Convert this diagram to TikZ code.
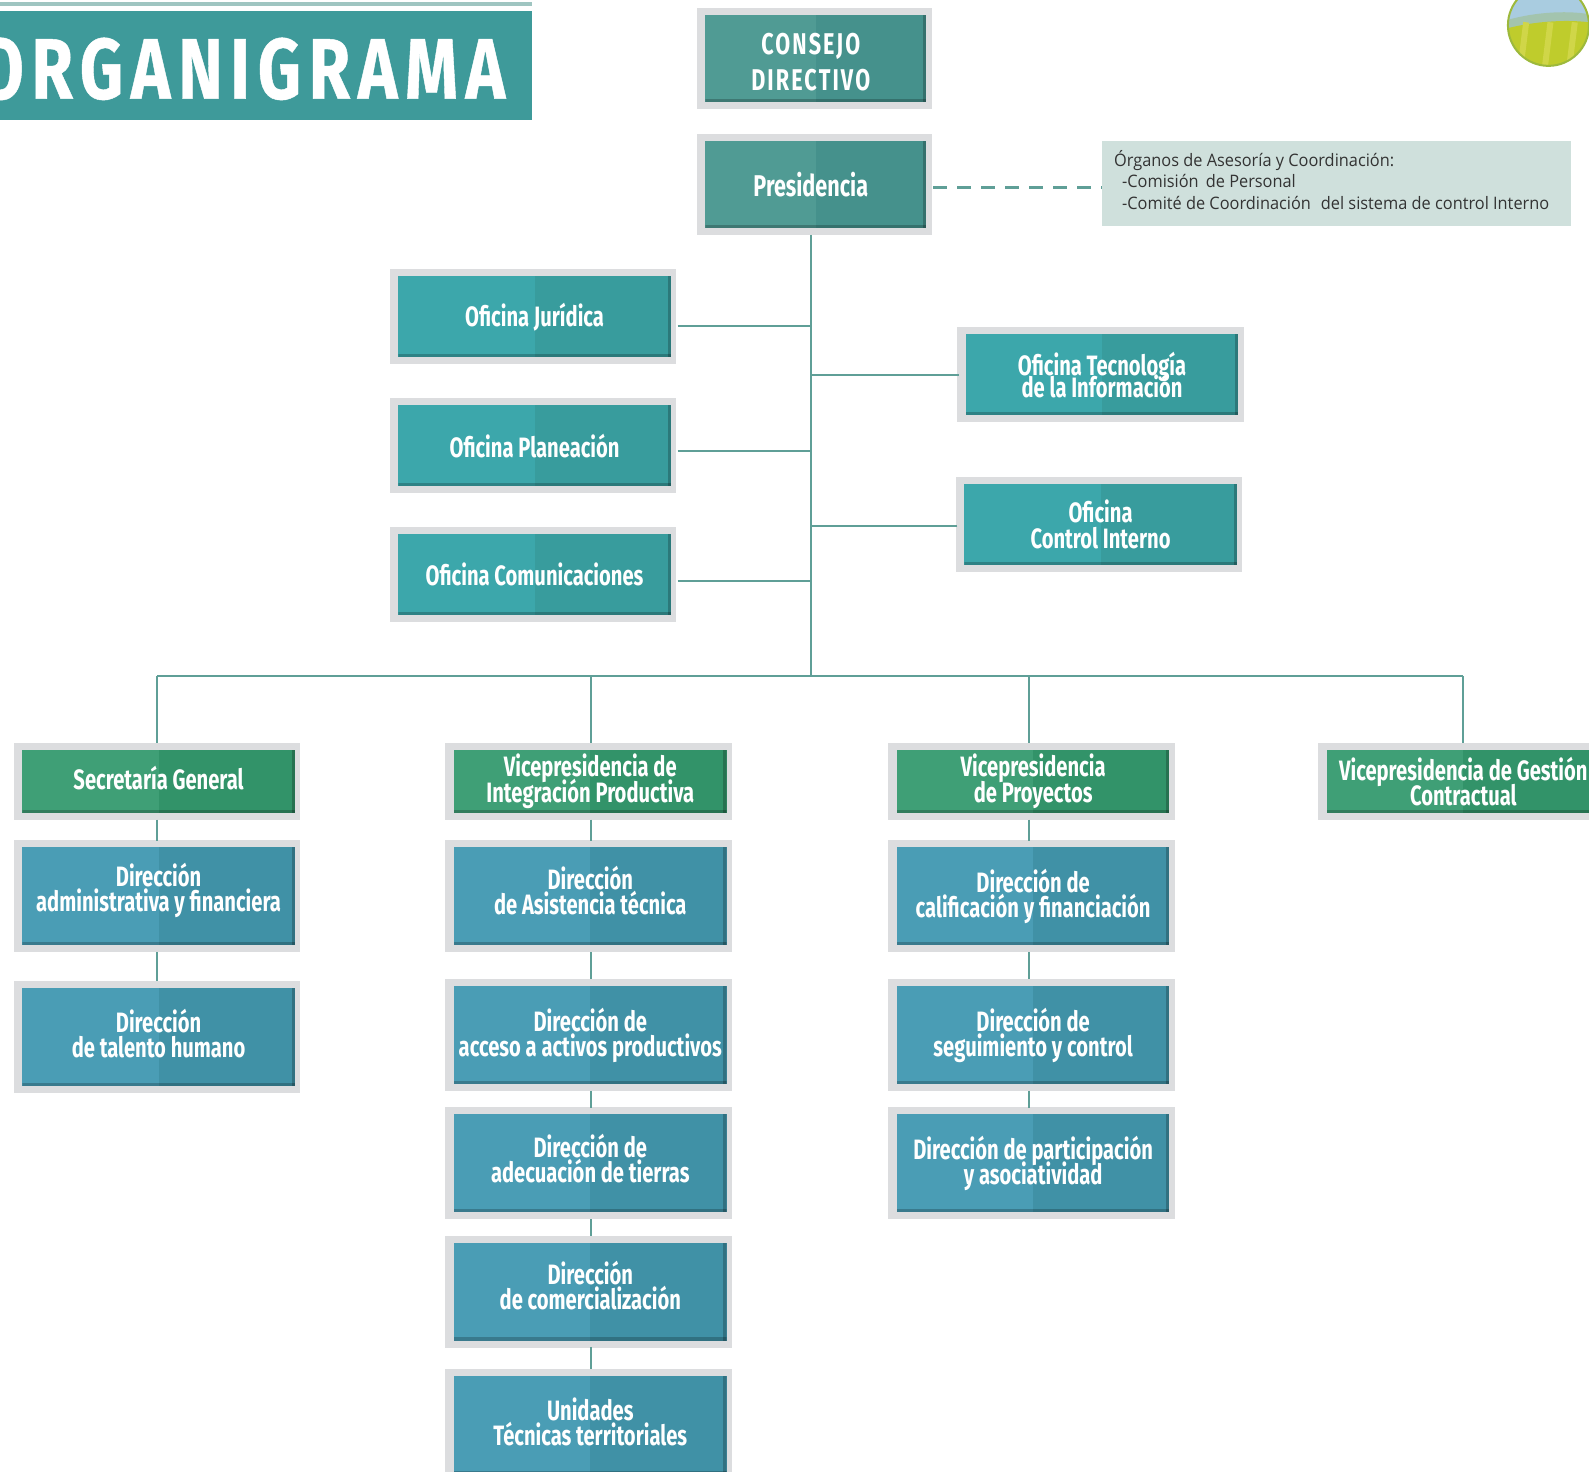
\documentclass[tikz,border=0pt]{standalone}
\usepackage{fontspec}
\newfontfamily\boxfont[FakeStretch=0.72]{Fira Sans}
\newfontfamily\topfont[FakeStretch=0.72,LetterSpace=7]{Fira Sans}
\newfontfamily\titlefont[FakeStretch=0.78,LetterSpace=9,FakeBold=.5]{Fira Sans}
\newfontfamily\notefont[FakeStretch=0.95]{Open Sans}
\newcommand{\tightlines}{\lineskiplimit=-50pt\relax}
\newcommand{\up}[1]{\rule[-#1pt]{0pt}{0pt}}
\definecolor{halo}{HTML}{DCDDDF}
\definecolor{line}{HTML}{5F9F97}
\definecolor{titlefill}{HTML}{3E9A9A}
\definecolor{topa}{HTML}{509B94}
\definecolor{topb}{HTML}{45918C}
\definecolor{ofia}{HTML}{3CA7AB}
\definecolor{ofib}{HTML}{389C9D}
\definecolor{vica}{HTML}{3F9F76}
\definecolor{vicb}{HTML}{329369}
\definecolor{dira}{HTML}{4A9DB5}
\definecolor{dirb}{HTML}{4091A6}
\definecolor{notefill}{HTML}{CFE0DC}
\definecolor{logosky}{HTML}{A9CCE0}
\definecolor{logotree}{HTML}{A3C4AE}
\definecolor{logofield}{HTML}{BFCC2C}
\definecolor{logostripe}{HTML}{D0D648}
\definecolor{logoedge}{HTML}{9DB93C}
\tikzset{
  orgbox/.style n args={2}{rectangle, fill=#1, text=white,
    align=center, inner sep=0pt, outer sep=3.4pt, minimum width=136.3pt,
    font=\boxfont\bfseries\fontsize{14}{12.7}\selectfont\tightlines,
    preaction={draw=halo, line width=7pt, transform canvas={xshift=-.8pt}},
    path picture={
      \fill[#2] (path picture bounding box.south) rectangle (path picture bounding box.north east);
      \fill[black,opacity=.22] ([yshift=1.6pt]path picture bounding box.south west) rectangle (path picture bounding box.south east);
      \fill[black,opacity=.22] ([xshift=-1.6pt]path picture bounding box.south east) rectangle (path picture bounding box.north east);
    }},
  topbox/.style={orgbox={topa}{topb}, minimum width=110.5pt, minimum height=43.6pt, font=\boxfont\bfseries\fontsize{15}{18}\selectfont\tightlines},
  ofibox/.style={orgbox={ofia}{ofib}, minimum height=40.5pt},
  vicbox/.style={orgbox={vica}{vicb}, minimum height=31.4pt},
  dirbox/.style={orgbox={dira}{dirb}, minimum height=49pt},
  link/.style={draw=line, line width=1pt}
}
\begin{document}
\begin{tikzpicture}[x=.5067pt,y=-.5067pt]
  \useasboundingbox (0,0) rectangle (1568,1452);
  % title
  \fill[titlefill] (0,11) rectangle (525,118);
  \fill[line!60] (0,2) rectangle (525,6);
  \node[anchor=east, inner sep=0pt, text=white, font=\titlefont\bfseries\fontsize{43}{43}\selectfont] (title) at (499,68) {ORGANIGRAMA};
  % logo
  \begin{scope}
    \clip (1528,25) circle (40);
    \fill[logosky] (1480,-20) rectangle (1568,70);
    \fill[logotree] (1480,22) .. controls (1510,12) and (1545,10) .. (1568,14) -- (1568,30) -- (1480,30) -- cycle;
    \fill[logofield] (1480,30) .. controls (1510,21) and (1545,19) .. (1568,22) -- (1568,70) -- (1480,70) -- cycle;
    \foreach \x in {1500,1524,1548} \draw[logostripe, line width=3pt] (\x+6,22) -- (\x,70);
  \end{scope}
  \draw[logoedge, line width=1pt] (1528,25) circle (40);
  % boxes
  \node[topbox] (consejo) at (805,58) {\rule{0pt}{13.5pt}\hspace*{-5pt}{\topfont CONSEJO}\\\hspace*{-5pt}{\topfont DIRECTIVO}};
  \node[topbox] (pres) at (805,182) {\hspace*{-5pt}Presidencia};
  \foreach \id/\cx/\cy/\txt in {ojur/527.5/312.5/{Oficina Jurídica}, opla/527.5/440/{Oficina Planeación},
      ocom/527.5/567/{Oficina Comunicaciones}, otec/1087.5/370/{Oficina Tecnología\\[-1.6pt]de la Información},
      ocon/1086/517.5/{Oficina\\Control Interno}}
    \node[ofibox] (\id) at (\cx,\cy) {\txt};
  \foreach \id/\cx/\txt in {vsec/156.5/{Secretaría General\up{4}}, vint/582.5/{Vicepresidencia de\\Integración Productiva},
      vpro/1019.5/{Vicepresidencia\\de Proyectos}}
    \node[vicbox] (\id) at (\cx,771) {\txt};
  \node[vicbox] (vges) at (1444,771) {Vicepresidencia de Gestión\\Contractual};
  \foreach \id/\cx/\cy/\txt in {dadm/156.5/884.5/{Dirección\\administrativa y financiera\up{8.8}}, dtal/156.5/1023.5/{Dirección\\de talento humano\up{4}},
      dasi/582.5/884.5/{Dirección\\de Asistencia técnica\up{6}}, dacc/582.5/1021.5/{Dirección de\\acceso a activos productivos},
      dade/582.5/1148/{Dirección de\\adecuación de tierras\up{5}}, dcom/582.5/1274.5/{Dirección\\de comercialización\up{6}},
      duni/582.5/1406/{Unidades\\Técnicas territoriales\up{3}},
      dcal/1019.5/884.5/{Dirección de\\calificación y financiación}, dseg/1019.5/1021.5/{Dirección de\\seguimiento y control},
      dpar/1019.5/1148/{Dirección de participación\\y asociatividad}}
    \node[dirbox] (\id) at (\cx,\cy) {\txt};
  \node[fill=notefill, minimum width=234.6pt, minimum height=42.6pt, inner sep=0pt] (note) at (1318.5,181) {};
  \node[anchor=west, inner sep=0pt, align=left, font=\notefont\fontsize{8.6}{10.9}\selectfont, text=black!80] (notetxt) at (1099,177.5)
    {Órganos de Asesoría y Coordinación:\\\hspace*{4pt}-Comisión\, de Personal\\\hspace*{4pt}-Comité de Coordinación\,\, del sistema de control Interno};
  % connectors
  \coordinate (trunk) at (800,667);
  \draw[link] (pres.south -| trunk) -- (trunk);
  \draw[link, line width=1.3pt, dash pattern=on 7pt off 5pt] (pres.east |- 0,185) -- (note.west |- 0,185);
  \foreach \id/\y in {ojur/322, opla/445, ocom/573} {
    \coordinate (t\id) at (800,\y);
    \draw[link] (\id.east |- t\id) -- (t\id);
  }
  \foreach \id/\y in {otec/370, ocon/519} {
    \coordinate (t\id) at (800,\y);
    \draw[link] (\id.west |- t\id) -- (t\id);
  }
  \draw[link] (155,667) -- (1444,667);
  \foreach \id/\x in {vsec/155, vint/583, vpro/1015, vges/1444} {
    \coordinate (d\id) at (\x,667);
    \draw[link] (d\id) -- (\id.north -| d\id);
  }
  \foreach \a/\b/\x in {vsec/dadm/155, dadm/dtal/155, vint/dasi/583, dasi/dacc/583, dacc/dade/583, dade/dcom/583, dcom/duni/583,
      vpro/dcal/1015, dcal/dseg/1015, dseg/dpar/1015} {
    \coordinate (k\a) at (\x,0);
    \draw[link] (\a.south -| k\a) -- (\b.north -| k\a);
  }
\end{tikzpicture}
\end{document}
